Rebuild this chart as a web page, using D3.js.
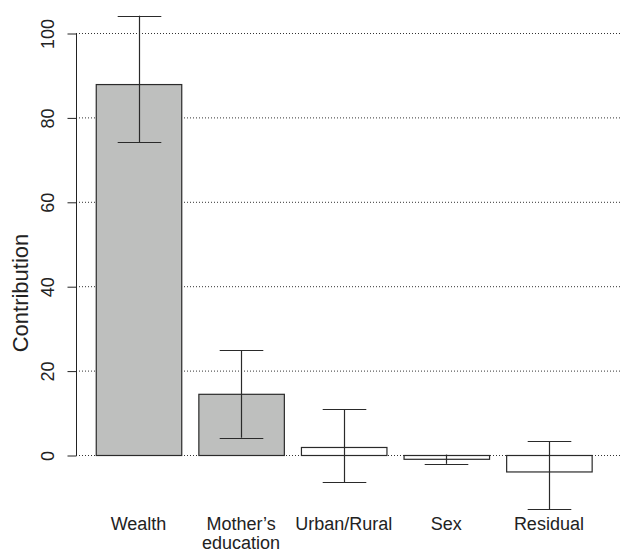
<!DOCTYPE html>
<html>
<head>
<meta charset="utf-8">
<script src="https://cdn.jsdelivr.net/npm/d3@7"></script>
<style>
  html, body { margin: 0; padding: 0; background: #fff; }
  svg { display: block; font-family: "Liberation Sans", Arial, Helvetica, sans-serif; }
</style>
</head>
<body>
<svg id="chart" width="620" height="554"></svg>
<script>
// Decomposition of the gap: contribution of each factor with 95% interval
const categories = ["Wealth", "Mother\u2019s\neducation", "Urban/Rural", "Sex", "Residual"];
const contribution = [87.9, 14.5, 1.9, -0.9, -3.9];
const ciUpper = [104.1, 24.8, 10.9, 0.1, 3.2];
const ciLower = [74.1, 4.1, -6.5, -2.1, -12.8];
const yTicks = [0, 20, 40, 60, 80, 100];

const svg = d3.select("#chart");

const y = d3.scaleLinear().domain([0, 100]).range([455, 33]);
const x = d3.scaleBand()
  .domain(categories)
  .range([87.2, 600.2])
  .paddingInner(1 / 6)
  .paddingOuter(1 / 12);

// bars whose interval excludes zero are shaded
const fillFor = i => (ciLower[i] > 0 || ciUpper[i] < 0) ? "#bebfbe" : "#ffffff";

// dotted reference lines
svg.append("g")
  .selectAll("line")
  .data(yTicks)
  .join("line")
  .attr("x1", 76).attr("x2", 620)
  .attr("y1", d => y(d) + 0.5).attr("y2", d => y(d) + 0.5)
  .attr("stroke", "#333")
  .attr("stroke-width", 1)
  .attr("stroke-dasharray", "1,2");

// bars
svg.append("g")
  .selectAll("rect")
  .data(contribution)
  .join("rect")
  .attr("x", (d, i) => x(categories[i]) + 0.5)
  .attr("width", x.bandwidth())
  .attr("y", d => Math.min(y(d), y(0)) + 0.5)
  .attr("height", d => Math.abs(y(d) - y(0)))
  .attr("fill", (d, i) => fillFor(i))
  .attr("stroke", "#2a2a2a")
  .attr("stroke-width", 1.2);

// error bars
const capHalf = x.bandwidth() * 0.255;
const eb = svg.append("g").attr("stroke", "#2a2a2a").attr("stroke-width", 1.2);
categories.forEach((c, i) => {
  const cx = Math.round(x(c) + x.bandwidth() / 2) + 0.5;
  eb.append("line")
    .attr("x1", cx).attr("x2", cx)
    .attr("y1", y(ciUpper[i])).attr("y2", y(ciLower[i]));
  [ciUpper[i], ciLower[i]].forEach(v => {
    eb.append("line")
      .attr("x1", cx - capHalf).attr("x2", cx + capHalf)
      .attr("y1", Math.round(y(v)) + 0.5).attr("y2", Math.round(y(v)) + 0.5);
  });
});

// y axis
const yAxis = d3.axisLeft(y).tickValues(yTicks).tickSize(9).tickPadding(7);
const ga = svg.append("g").attr("transform", "translate(76.5,0.5)").call(yAxis);
ga.select(".domain").attr("stroke", "none");
ga.append("line").attr("x1", 0).attr("x2", 0).attr("y1", y(0)).attr("y2", y(100)).attr("stroke", "#222");
ga.selectAll(".tick line").attr("stroke", "#222");
ga.selectAll(".tick text")
  .attr("font-size", 18)
  .attr("fill", "#222")
  .attr("text-anchor", "middle")
  .attr("dy", null)
  .attr("x", null)
  .attr("transform", "translate(-23,0) rotate(-90)")
  .attr("y", 0);

// y axis title
svg.append("text")
  .attr("transform", `translate(28,293) rotate(-90)`)
  .attr("text-anchor", "middle")
  .attr("font-size", 22)
  .attr("fill", "#222")
  .text("Contribution");

// category labels
const lbl = svg.append("g").attr("font-size", 18).attr("fill", "#222").attr("text-anchor", "middle");
categories.forEach(c => {
  const t = lbl.append("text")
    .attr("x", x(c) + x.bandwidth() / 2)
    .attr("y", 530);
  c.split("\n").forEach((line, k) => {
    t.append("tspan")
      .attr("x", x(c) + x.bandwidth() / 2)
      .attr("dy", k === 0 ? 0 : 19)
      .text(line);
  });
});
</script>
</body>
</html>
